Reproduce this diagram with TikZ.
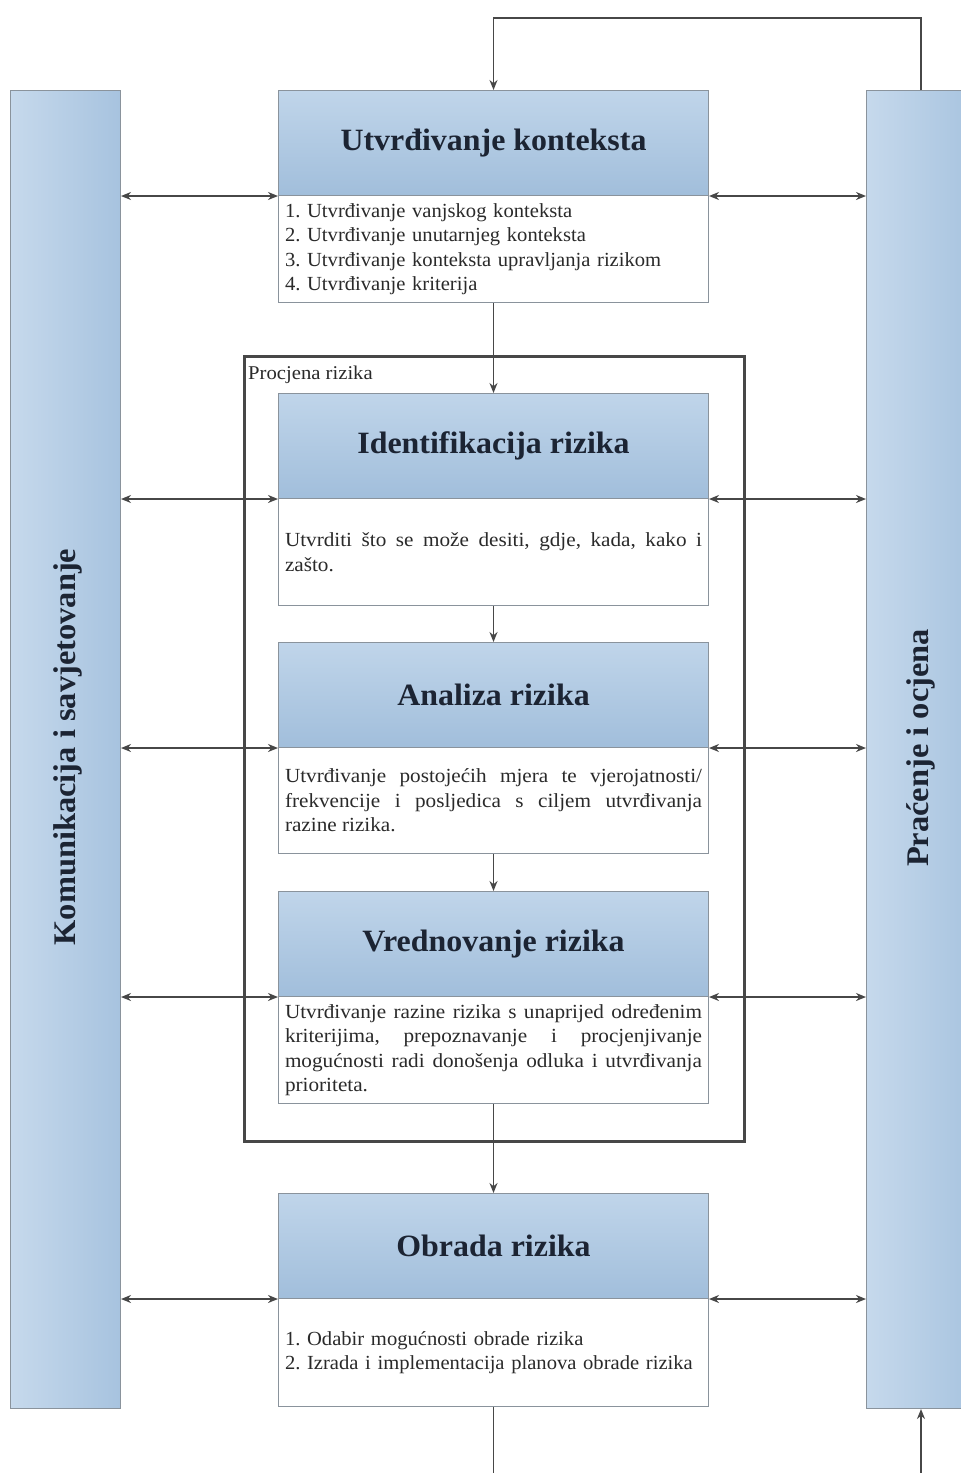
\documentclass[tikz,border=0pt]{standalone}
\usepackage{fontspec}
\setmainfont{Liberation Serif}
\newfontfamily\bodyf[FakeStretch=1.06]{Liberation Serif}
\newfontfamily\listf[FakeStretch=1.03]{Liberation Serif}
\newfontfamily\headf[FakeStretch=1.03]{Liberation Serif}
\usetikzlibrary{arrows.meta}
\definecolor{hdtop}{HTML}{C0D5EA}
\definecolor{hdbot}{HTML}{A1BEDB}
\definecolor{barl}{HTML}{C6D9EC}
\definecolor{barr}{HTML}{A7C3DF}
\definecolor{edge}{HTML}{8A939C}
\definecolor{ln}{HTML}{474747}
\definecolor{ttl}{HTML}{1C2433}
\definecolor{bodyc}{HTML}{2A2A2A}
\tikzset{
  head/.style={draw=edge, line width=1pt, top color=hdtop, bottom color=hdbot,
    minimum width=430pt, minimum height=105pt, inner sep=0pt, anchor=north west,
    font=\headf\fontsize{31}{34}\selectfont\bfseries, text=ttl},
  tbox/.style={draw=edge, line width=1pt, fill=white, minimum width=430pt,
    inner sep=0pt, anchor=north west, text width=417pt, align=justify,
    font=\bodyf\fontsize{20}{24.5}\selectfont\frenchspacing, text=bodyc},
  lbox/.style={tbox, align=left, font=\listf\fontsize{20}{24.5}\selectfont\frenchspacing},
  bar/.style={draw=edge, line width=1pt, left color=barl, right color=barr,
    inner sep=0pt, anchor=north west},
  bartxt/.style={rotate=90, font=\headf\fontsize{31.5}{34}\selectfont\bfseries, text=ttl},
  dbl/.style={draw=ln, line width=1.8pt, {Stealth[length=10pt,width=8pt]}-{Stealth[length=10pt,width=8pt]}},
  one/.style={draw=ln, line width=1.8pt, -{Stealth[length=10pt,width=8pt]}},
  plain/.style={draw=ln, line width=1.8pt}
}
\begin{document}
\begin{tikzpicture}[x=1pt,y=-1pt]
\clip (0,0) rectangle (961,1473);
\fill[white] (0,0) rectangle (961,1473);

% side bars
\node[bar, minimum width=110pt, minimum height=1318pt] (lb) at (10,90) {};
\node[bar, minimum width=110pt, minimum height=1318pt] (rb) at (866,90) {};
\node[bartxt] (lbt) at (68,747) {Komunikacija i savjetovanje};
\node[bartxt] (rbt) at (921,748) {Praćenje i ocjena};

% risk assessment frame
\node[draw=ln, line width=2.8pt, minimum width=500pt, minimum height=785pt, anchor=north west, inner sep=0pt] (fr) at (243,355) {};
\node[anchor=base west, inner sep=0pt, font=\bodyf\fontsize{19.5}{22}\selectfont, text=bodyc] (frt) at (248,379) {Procjena rizika};

% headers and text boxes
\node[head] (h1) at (278,90) {Utvrđivanje konteksta};
\node[lbox, minimum height=107pt] (t1) at (278,195) {1. Utvrđivanje vanjskog konteksta\\2. Utvrđivanje unutarnjeg konteksta\\3. Utvrđivanje konteksta upravljanja rizikom\\4. Utvrđivanje kriterija};

\node[head] (h2) at (278,393) {Identifikacija rizika};
\node[tbox, minimum height=107pt] (t2) at (278,498) {Utvrditi što se može desiti, gdje, kada, kako i\linebreak zašto.};

\node[head] (h3) at (278,642) {Analiza rizika};
\node[tbox, minimum height=106pt] (t3) at (278,747) {Utvrđivanje postojećih mjera te vjerojatnosti/\linebreak frekvencije i posljedica s ciljem utvrđivanja\linebreak razine rizika.};

\node[head] (h4) at (278,891) {Vrednovanje rizika};
\node[tbox, minimum height=107pt] (t4) at (278,996) {Utvrđivanje razine rizika s unaprijed određenim\linebreak kriterijima, prepoznavanje i procjenjivanje\linebreak mogućnosti radi donošenja odluka i utvrđivanja\linebreak prioriteta.};

\node[head] (h5) at (278,1193) {Obrada rizika};
\node[lbox, minimum height=108pt] (t5) at (278,1298) {1. Odabir mogućnosti obrade rizika\\2. Izrada i implementacija planova obrade rizika};

% vertical flow
\draw[one] (t1.south) -- (h2.north);
\draw[one] (t2.south) -- (h3.north);
\draw[one] (t3.south) -- (h4.north);
\draw[one] (t4.south) -- (h5.north);

% feedback loop
\coordinate (topR) at (921,18);
\coordinate (botR) at (921,1480);
\coordinate (topL) at (h1.north |- topR);
\coordinate (botL) at (t5.south |- botR);
\draw[one] (rb.north -| topR) -- (topR) -- (topL) -- (h1.north);
\draw[plain] (t5.south) -- (botL);
\draw[one] (botR) -- (rb.south -| botR);

% horizontal double arrows
\foreach \h in {h1,h2,h3,h4,h5}{
  \draw[dbl] (lb.east |- \h.south west) -- (\h.south west);
  \draw[dbl] (\h.south east) -- (rb.west |- \h.south east);
}
\end{tikzpicture}
\end{document}
